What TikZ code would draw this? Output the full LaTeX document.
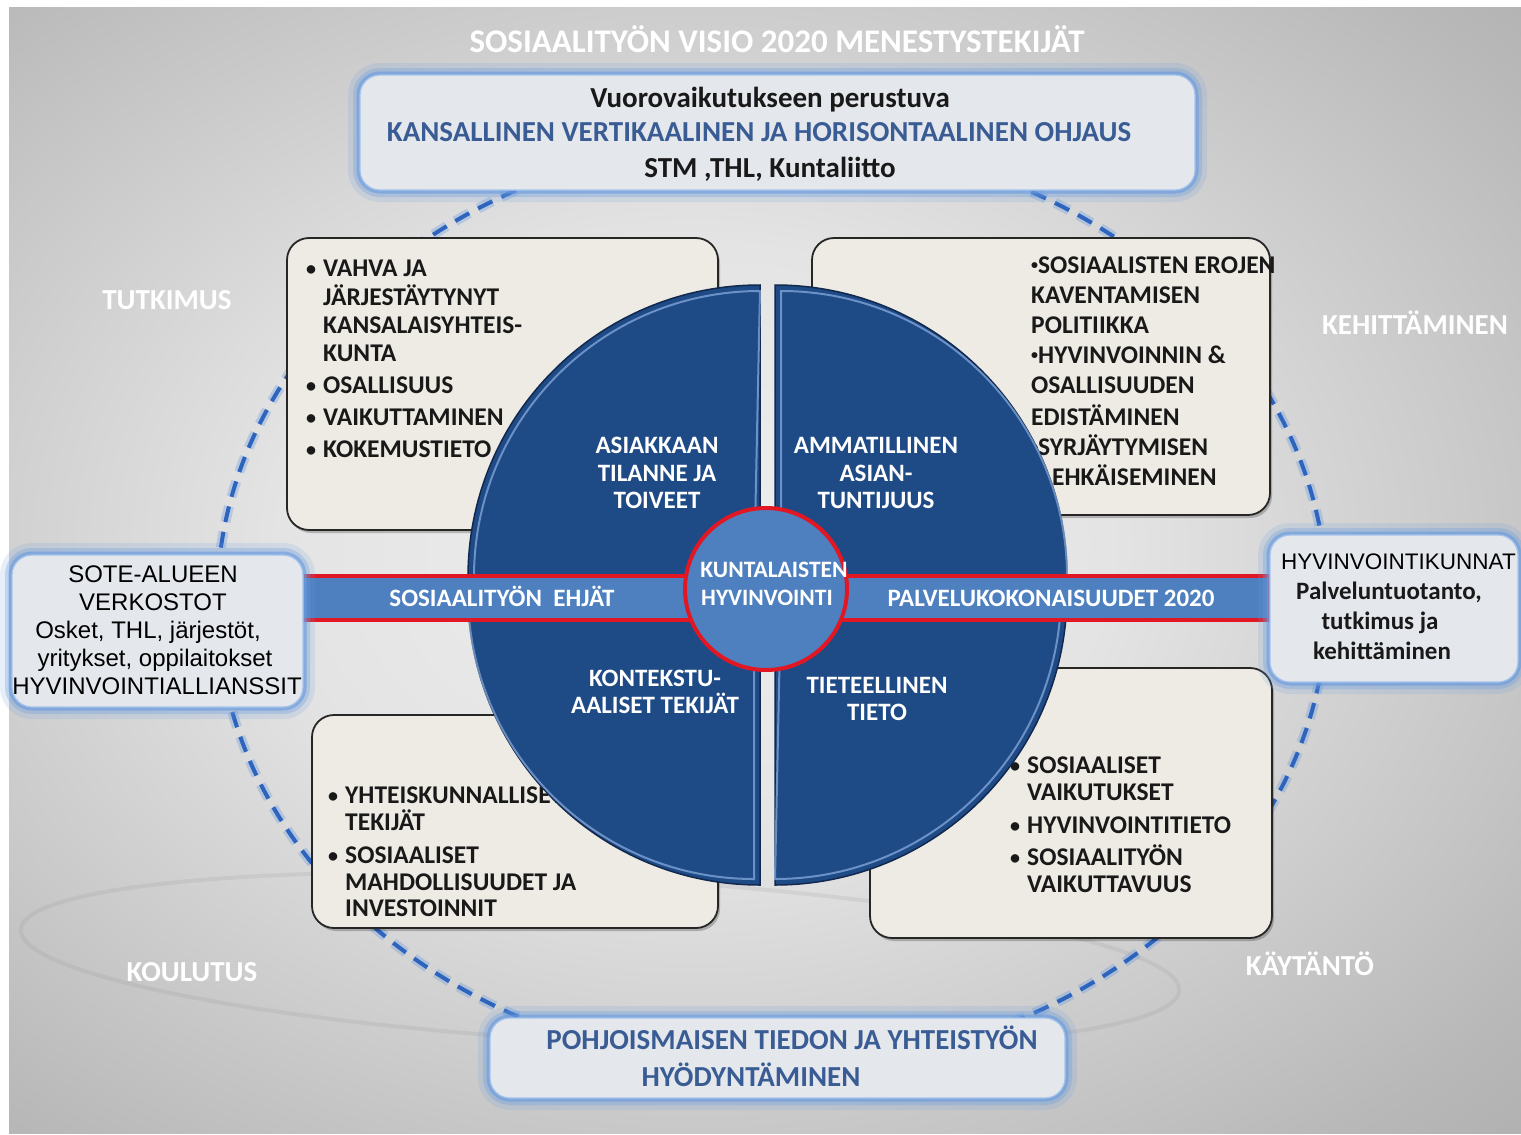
\documentclass[tikz,border=0pt]{standalone}
\usepackage{fontspec}
\setmainfont{Carlito}
\newfontfamily\arialfam{Liberation Sans}
\usetikzlibrary{calc}
\definecolor{qblue}{RGB}{30,74,134}
\definecolor{qdark}{RGB}{18,40,78}
\definecolor{qlight}{RGB}{140,176,226}
\definecolor{barblue}{RGB}{78,128,192}
\definecolor{redline}{RGB}{225,24,36}
\definecolor{txtblue}{RGB}{58,92,148}
\definecolor{cream}{RGB}{237,235,227}
\definecolor{glowc}{RGB}{105,155,222}
\definecolor{boxfill}{RGB}{228,231,236}
\definecolor{dashc}{RGB}{45,100,190}
\definecolor{bgA}{RGB}{238,238,238}
\definecolor{bgB}{RGB}{228,228,228}
\definecolor{bgC}{RGB}{184,184,184}
\definecolor{bgD}{RGB}{150,150,150}
\definecolor{bgE}{RGB}{118,118,118}
\pgfdeclareradialshading{bgshade}{\pgfpoint{0bp}{0bp}}{color(0bp)=(bgA); color(12bp)=(bgB); color(30bp)=(bgC); color(48bp)=(bgD); color(72bp)=(bgE)}
\newcommand\smallbul{{\fontsize{14}{14}\selectfont\raisebox{3.5pt}{\textbullet}}}
\begin{document}
\begin{tikzpicture}[x=1pt,y=1pt,
  glowbox/.style={rectangle, rounded corners=20pt, fill=boxfill, draw=glowc!60!white, line width=1.2pt, inner sep=0pt,
    preaction={draw=glowc, draw opacity=.16, line width=24pt},
    preaction={draw=glowc, draw opacity=.3, line width=14pt},
    preaction={draw=glowc, draw opacity=.6, line width=7pt}},
  creambox/.style={rectangle, rounded corners=22pt, fill=cream, draw=black!85, line width=1.8pt, inner sep=0pt,
    preaction={fill=black, fill opacity=.22, transform canvas={shift={(2pt,-3pt)}}}},
  quad/.style={fill=qblue, draw=qdark, line width=1.5pt},
  bevel/.style={draw=qlight, line width=2pt, draw opacity=.7},
  listtxt/.style={anchor=base west, inner sep=0pt, font=\bfseries\fontsize{25.5}{28}\selectfont, text=black!90},
  bultxt/.style={anchor=base, inner sep=0pt, font=\bfseries\fontsize{20}{24}\selectfont, text=black!90},
  wlab/.style={anchor=base, inner sep=0pt, font=\bfseries\fontsize{25}{28}\selectfont, text=white},
  corner/.style={anchor=base, inner sep=0pt, font=\bfseries\fontsize{29}{32}\selectfont, text=white},
  sote/.style={anchor=base, inner sep=0pt, font=\arialfam\fontsize{24}{28}\selectfont, text=black},
  ringglow/.style={draw=glowc, line width=10pt, draw opacity=.35, dash pattern=on 16pt off 10pt},
  ring/.style={draw=dashc, line width=4pt, dash pattern=on 16pt off 10pt}
]
\useasboundingbox (0,0) rectangle (1521,-1135);
\fill[white] (0,0) rectangle (1521,-1135);
\begin{scope}
  \clip (9,-7) rectangle (1521,-1133);
  \shade[shading=bgshade] (-170,80) rectangle (1560,-1170);
\end{scope}

% faint swoosh
\draw[gray, line width=4pt, draw opacity=.13, rotate around={-3:(600,-960)}] (600,-960) ellipse [x radius=580pt, y radius=82pt];

% dashed ring
\draw[ringglow] (772,-603) ellipse [x radius=555pt, y radius=465pt];
\draw[ring] (772,-603) ellipse [x radius=555pt, y radius=465pt];

% cream boxes
\node[creambox, minimum width=431pt, minimum height=292pt] (btl) at (502.5,-384) {};
\node[creambox, minimum width=458pt, minimum height=277pt] (btr) at (1041,-376.5) {};
\node[creambox, minimum width=406pt, minimum height=213pt] (bbl) at (515,-821.5) {};
\node[creambox, minimum width=402pt, minimum height=270pt] (bbr) at (1071,-803) {};

% list texts
\foreach \yy/\bb/\tt [count=\k] in {268/1/VAHVA JA, 297/0/JÄRJESTÄYTYNYT, 325/0/KANSALAISYHTEIS-, 353/0/KUNTA, 385/1/OSALLISUUS, 417/1/VAIKUTTAMINEN, 449/1/KOKEMUSTIETO}{
  \node[listtxt] (tl\k) at (323,-\yy-8) {\tt};
  \ifnum\bb=1 \node[bultxt] (tlb\k) at (311,-\yy-7) {\textbullet};\fi
}
\foreach \yy/\xx/\tt [count=\k] in {265/1031/\smallbul SOSIAALISTEN EROJEN, 295/1031/KAVENTAMISEN, 325/1031/POLITIIKKA, 355/1031/\smallbul HYVINVOINNIN \&, 385/1031/OSALLISUUDEN, 417/1031/EDISTÄMINEN, 447/1031/\smallbul SYRJÄYTYMISEN, 477/1052/EHKÄISEMINEN}{
  \node[listtxt] (tr\k) at (\xx,-\yy-8) {\tt};
}
\foreach \yy/\bb/\tt [count=\k] in {795/1/YHTEISKUNNALLISET, 822/0/TEKIJÄT, 855/1/SOSIAALISET, 882/0/MAHDOLLISUUDET JA, 908/0/INVESTOINNIT}{
  \node[listtxt] (bl\k) at (345,-\yy-8) {\tt};
  \ifnum\bb=1 \node[bultxt] (blb\k) at (333,-\yy-7) {\textbullet};\fi
}
\foreach \yy/\bb/\tt [count=\k] in {765/1/SOSIAALISET, 792/0/VAIKUTUKSET, 825/1/HYVINVOINTITIETO, 857/1/SOSIAALITYÖN, 884/0/VAIKUTTAVUUS}{
  \node[listtxt] (br\k) at (1027,-\yy-8) {\tt};
  \ifnum\bb=1 \node[bultxt] (brb\k) at (1015,-\yy-7) {\textbullet};\fi
}

% quadrants
\path[quad] (760,-577) -- (468,-577) arc[start angle=180, end angle=90, radius=292pt] -- cycle;
\path[quad] (775,-577) -- (775,-285) arc[start angle=90, end angle=0, radius=292pt] -- cycle;
\path[quad] (760,-593) -- (760,-885) arc[start angle=270, end angle=180, radius=292pt] -- cycle;
\path[quad] (775,-593) -- (1067,-593) arc[start angle=0, end angle=-90, radius=292pt] -- cycle;
\draw[bevel] (474,-577) arc[start angle=180, end angle=90, radius=286pt] -- (754,-577);
\draw[bevel] (781,-577) -- (781,-291) arc[start angle=90, end angle=0, radius=286pt];
\draw[bevel] (754,-593) -- (754,-879) arc[start angle=270, end angle=180, radius=286pt];
\draw[bevel] (1061,-593) arc[start angle=0, end angle=-90, radius=286pt] -- (781,-593);

\node[wlab] (q1a) at (657,-453) {ASIAKKAAN};
\node[wlab] (q1b) at (657,-481) {TILANNE JA};
\node[wlab] (q1c) at (657,-508) {TOIVEET};
\node[wlab] (q2a) at (876,-453) {AMMATILLINEN};
\node[wlab] (q2b) at (876,-481) {ASIAN-};
\node[wlab] (q2c) at (876,-508) {TUNTIJUUS};
\node[wlab] (q3a) at (655,-686) {KONTEKSTU-};
\node[wlab] (q3b) at (655,-713) {AALISET TEKIJÄT};
\node[wlab] (q4a) at (877,-693) {TIETEELLINEN};
\node[wlab] (q4b) at (877,-720) {TIETO};

% bar
\draw[fill=barblue, draw=redline, line width=3.5pt] (300,-576) rectangle (1270,-620);
\node[wlab] (barl) at (502,-606) {SOSIAALITYÖN\ \ EHJÄT};
\node[wlab] (barr) at (1051,-606) {PALVELUKOKONAISUUDET 2020};

% center circle
\node[circle, fill=barblue, draw=redline, line width=4pt, minimum size=162pt, inner sep=0pt] (ctr) at (766,-589) {};
\node[wlab, font=\bfseries\fontsize{23.5}{26}\selectfont] (ct1) at (774,-577) {KUNTALAISTEN};
\node[wlab, font=\bfseries\fontsize{23.5}{26}\selectfont] (ct2) at (767,-605) {HYVINVOINTI};

% side boxes
\node[glowbox, minimum width=291pt, minimum height=152pt] (sote) at (157.5,-631) {};
\node[sote] (s1) at (153,-582) {SOTE-ALUEEN};
\node[sote] (s2) at (153,-610) {VERKOSTOT};
\node[sote] (s3) at (148,-638) {Osket, THL, järjestöt,};
\node[sote] (s4) at (155,-666) {yritykset, oppilaitokset};
\node[sote] (s5) at (157,-694) {HYVINVOINTIALLIANSSIT};

\node[glowbox, minimum width=248pt, minimum height=147pt] (hvk) at (1394,-608.5) {};
\node[sote, anchor=base west, font=\arialfam\fontsize{22.5}{24}\selectfont] (h1) at (1281,-569) {HYVINVOINTIKUNNAT};
\node[wlab, text=black!90] (h2) at (1389,-599) {Palveluntuotanto,};
\node[wlab, text=black!90] (h3) at (1380,-629) {tutkimus ja};
\node[wlab, text=black!90] (h4) at (1382,-659) {kehittäminen};

% top box
\node[glowbox, minimum width=835pt, minimum height=115pt] (top) at (777.5,-132.5) {};
\node[wlab, text=black!90, font=\bfseries\fontsize{29}{32}\selectfont] (t1) at (770,-107) {Vuorovaikutukseen perustuva};
\node[wlab, text=txtblue, font=\bfseries\fontsize{29}{32}\selectfont] (t2) at (759,-141) {KANSALLINEN VERTIKAALINEN JA HORISONTAALINEN OHJAUS};
\node[wlab, text=black!90, font=\bfseries\fontsize{29}{32}\selectfont] (t3) at (770,-177) {STM ,THL, Kuntaliitto};

% bottom box
\node[glowbox, minimum width=575pt, minimum height=80pt] (bot) at (777.5,-1058) {};
\node[wlab, text=txtblue, font=\bfseries\fontsize{29}{32}\selectfont] (b1) at (792,-1049) {POHJOISMAISEN TIEDON JA YHTEISTYÖN};
\node[wlab, text=txtblue, font=\bfseries\fontsize{29}{32}\selectfont] (b2) at (751,-1086) {HYÖDYNTÄMINEN};

% title and corner labels
\node[corner, font=\bfseries\fontsize{33}{36}\selectfont] (title) at (777,-52) {SOSIAALITYÖN VISIO 2020 MENESTYSTEKIJÄT};
\node[corner] (c1) at (167,-309) {TUTKIMUS};
\node[corner] (c2) at (1415,-334) {KEHITTÄMINEN};
\node[corner] (c3) at (192,-981) {KOULUTUS};
\node[corner] (c4) at (1310,-975) {KÄYTÄNTÖ};
\end{tikzpicture}
\end{document}
